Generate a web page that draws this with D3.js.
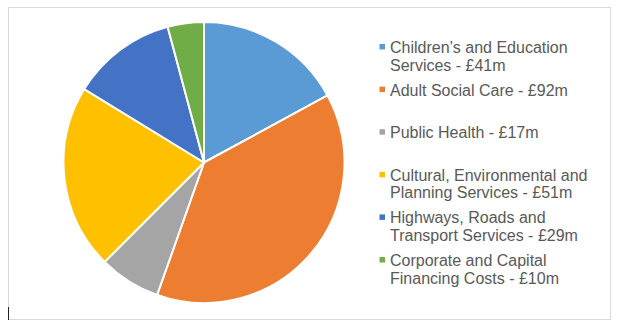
<!DOCTYPE html>
<html>
<head>
<meta charset="utf-8">
<script src="https://cdn.jsdelivr.net/npm/d3@7/dist/d3.min.js"></script>
<style>
  html, body { margin: 0; padding: 0; background: #fff; }
  svg { display: block; }
</style>
</head>
<body>
<svg id="chart" width="622" height="335"></svg>
<script>
// Service spending, £m
const categories = [
  "Children\u2019s and Education Services",
  "Adult Social Care",
  "Public Health",
  "Cultural, Environmental and Planning Services",
  "Highways, Roads and Transport Services",
  "Corporate and Capital Financing Costs"
];
const values = [41, 92, 17, 51, 29, 10];
// Legend text, already broken into lines
const legendLines = [
  ["Children\u2019s and Education", "Services - \u00a341m"],
  ["Adult Social Care - \u00a392m"],
  ["Public Health - \u00a317m"],
  ["Cultural, Environmental and", "Planning Services - \u00a351m"],
  ["Highways, Roads and", "Transport Services - \u00a329m"],
  ["Corporate and Capital", "Financing Costs - \u00a310m"]
];
const colors = ["#5B9BD5", "#ED7D31", "#A5A5A5", "#FFC000", "#4472C4", "#70AD47"];

const svg = d3.select("#chart");

// chart frame
svg.append("rect")
  .attr("x", 8.5).attr("y", 7.5)
  .attr("width", 602).attr("height", 312)
  .attr("fill", "#fff")
  .attr("stroke", "#d9d9d9").attr("stroke-width", 1);

// small dark tick at the lower-left corner
svg.append("line")
  .attr("x1", 8.5).attr("x2", 8.5)
  .attr("y1", 307).attr("y2", 320)
  .attr("stroke", "#222").attr("stroke-width", 1);

const color = d3.scaleOrdinal().domain(categories).range(colors);

const cx = 204, cy = 162.5, r = 140.5;
const pie = d3.pie().sort(null).value(d => d.value);
const arc = d3.arc().innerRadius(0).outerRadius(r);

const data = categories.map((c, i) => ({ name: c, value: values[i] }));

svg.append("g")
  .attr("transform", `translate(${cx},${cy})`)
  .selectAll("path")
  .data(pie(data))
  .join("path")
  .attr("d", arc)
  .attr("fill", d => color(d.data.name))
  .attr("stroke", "#fff")
  .attr("stroke-width", 2)
  .attr("stroke-linejoin", "round");

// legend
const legend = svg.append("g");
const legendY = d3.scaleLinear().domain([0, categories.length - 1]).range([53, 266]);

categories.forEach((c, i) => {
  const y0 = legendY(i);
  const g = legend.append("g");
  g.append("rect")
    .attr("x", 379.5).attr("y", y0 - 9)
    .attr("width", 5.5).attr("height", 5.5)
    .attr("fill", color(c));
  const t = g.append("text")
    .attr("x", 390).attr("y", y0)
    .attr("font-family", "Liberation Sans, Arial, sans-serif")
    .attr("font-size", "16px")
    .attr("fill", "#595959");
  legendLines[i].forEach((line, j) => {
    t.append("tspan")
      .attr("x", 390)
      .attr("y", y0 + j * 17.5)
      .text(line);
  });
});
</script>
</body>
</html>
